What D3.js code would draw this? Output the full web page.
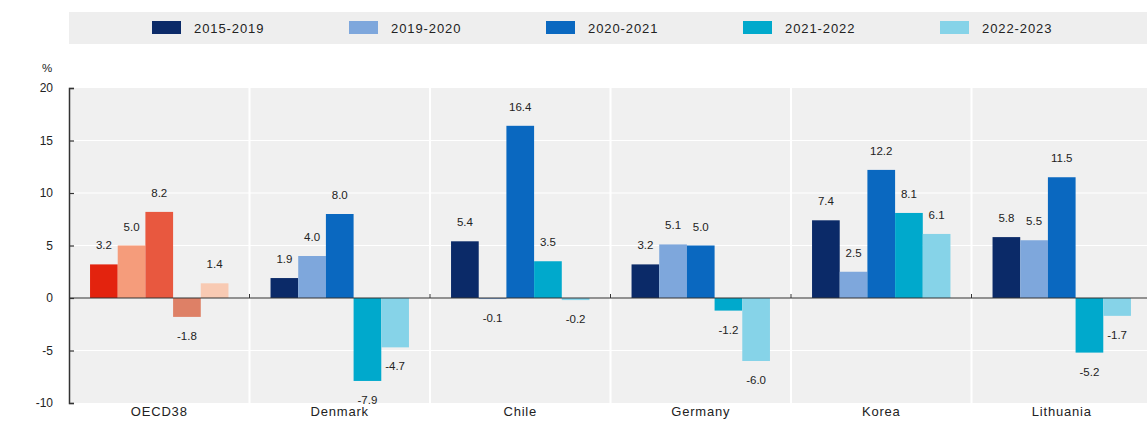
<!DOCTYPE html>
<html>
<head>
<meta charset="utf-8">
<script src="https://cdn.jsdelivr.net/npm/d3@7"></script>
<style>
  html, body { margin: 0; padding: 0; background: #ffffff; }
  svg { display: block; font-family: "Liberation Sans", Arial, sans-serif; }
</style>
</head>
<body>
<svg id="chart" width="1147" height="423"></svg>
<script>
// Countries / aggregate shown along the x axis
const categories = ["OECD38", "Denmark", "Chile", "Germany", "Korea", "Lithuania"];
// Periods (one bar per period in each group)
const periods = ["2015-2019", "2019-2020", "2020-2021", "2021-2022", "2022-2023"];

// Growth, % — one array per period, in the order of `categories`
const v2015_2019 = [3.2, 1.9, 5.4, 3.2, 7.4, 5.8];
const v2019_2020 = [5.0, 4.0, -0.1, 5.1, 2.5, 5.5];
const v2020_2021 = [8.2, 8.0, 16.4, 5.0, 12.2, 11.5];
const v2021_2022 = [-1.8, -7.9, 3.5, -1.2, 8.1, -5.2];
const v2022_2023 = [1.4, -4.7, -0.2, -6.0, 6.1, -1.7];
const seriesValues = [v2015_2019, v2019_2020, v2020_2021, v2021_2022, v2022_2023];

const yTicks = [-10, -5, 0, 5, 10, 15, 20];

// Palettes: OECD aggregate in reds, countries in blues
const blues = ["#0b2a68", "#7ea7dc", "#0a68c0", "#00a9cc", "#86d3e8"];
const reds  = ["#e3230e", "#f59c7b", "#e8583f", "#de8066", "#f8cab3"];

// Number formatting with a plain hyphen as the minus sign
const locale = d3.formatLocale({ decimal: ".", thousands: ",", grouping: [3], currency: ["", ""], minus: "-" });
const fmt = locale.format(".1f");
const fmtInt = locale.format("d");

const svg = d3.select("#chart");

const plot = { left: 69, right: 1152, top: 88, bottom: 403 };

const x0 = d3.scaleBand().domain(categories).range([plot.left, plot.right]).paddingInner(0).paddingOuter(0);
const x1 = d3.scaleBand().domain(periods).range([0, x0.bandwidth()]).paddingInner(0).paddingOuter(0.76);
const y = d3.scaleLinear().domain([-10, 20]).range([plot.bottom, plot.top]);

const colorFor = (cat, i) => (cat === "OECD38" ? reds[i] : blues[i]);

// Legend band
const legend = svg.append("g");
legend.append("rect")
  .attr("x", 69).attr("y", 12).attr("width", 1147 - 69).attr("height", 32)
  .attr("fill", "#eeeeee");
const legendX = d3.scalePoint().domain(periods).range([152, 940]);
const items = legend.selectAll("g.item").data(periods).join("g")
  .attr("class", "item")
  .attr("transform", d => `translate(${legendX(d)},0)`);
items.append("rect")
  .attr("x", 0).attr("y", 21).attr("width", 29).attr("height", 13)
  .attr("fill", (d, i) => blues[i]);
items.append("text")
  .attr("x", 42).attr("y", 28).attr("dy", "0.35em")
  .attr("font-size", 13).attr("letter-spacing", 0.9)
  .attr("fill", "#222")
  .text(d => d);

// Plot background
svg.append("rect")
  .attr("x", plot.left).attr("y", plot.top)
  .attr("width", plot.right - plot.left).attr("height", plot.bottom - plot.top)
  .attr("fill", "#f0f0f0");

// Horizontal gridlines
svg.append("g").selectAll("line").data(yTicks.filter(t => t !== 0 && t !== -10 && t !== 20)).join("line")
  .attr("x1", plot.left).attr("x2", plot.right)
  .attr("y1", d => y(d)).attr("y2", d => y(d))
  .attr("stroke", "#ffffff").attr("stroke-width", 1.2);

// Vertical separators between groups
svg.append("g").selectAll("line").data(categories.slice(1)).join("line")
  .attr("x1", d => x0(d)).attr("x2", d => x0(d))
  .attr("y1", plot.top).attr("y2", plot.bottom)
  .attr("stroke", "#ffffff").attr("stroke-width", 2);

// Bars
const groups = svg.append("g").selectAll("g").data(categories).join("g")
  .attr("transform", d => `translate(${x0(d)},0)`);

const barData = (cat, ci) => periods.map((p, i) => ({ cat, period: p, i, value: seriesValues[i][ci] }));

groups.selectAll("rect").data((d, ci) => barData(d, ci)).join("rect")
  .attr("x", d => x1(d.period))
  .attr("width", x1.bandwidth())
  .attr("y", d => y(Math.max(0, d.value)))
  .attr("height", d => Math.abs(y(d.value) - y(0)))
  .attr("fill", d => colorFor(d.cat, d.i));

// Zero line
svg.append("line")
  .attr("x1", plot.left).attr("x2", plot.right)
  .attr("y1", y(0)).attr("y2", y(0))
  .attr("stroke", "#333333").attr("stroke-width", 1.2);

// Small ticks on zero line at group boundaries
svg.append("g").selectAll("line").data(categories.slice(1)).join("line")
  .attr("x1", d => x0(d)).attr("x2", d => x0(d))
  .attr("y1", y(0)).attr("y2", y(0) - 4)
  .attr("stroke", "#333333").attr("stroke-width", 1);

// Value labels
groups.selectAll("text.val").data((d, ci) => barData(d, ci)).join("text")
  .attr("class", "val")
  .attr("x", d => x1(d.period) + x1.bandwidth() / 2)
  .attr("y", d => d.value >= 0 ? y(d.value) - 19 : y(d.value) + 19)
  .attr("dy", "0.35em")
  .attr("text-anchor", "middle")
  .attr("font-size", 11.5)
  .attr("fill", "#222")
  .text(d => fmt(d.value));

// Y axis (ticks point inward)
const yAxis = d3.axisLeft(y).tickValues(yTicks).tickSizeInner(-5).tickSizeOuter(-5).tickPadding(16).tickFormat(fmtInt);
const yg = svg.append("g").attr("transform", `translate(${plot.left},0)`).call(yAxis);
yg.select(".domain").attr("stroke", "#333").attr("stroke-width", 1.5);
yg.selectAll(".tick line").attr("stroke", "#333").attr("stroke-width", 1.2);
yg.selectAll(".tick text").attr("font-size", 12).attr("fill", "#222").attr("font-family", "Liberation Sans, Arial, sans-serif");

svg.append("text")
  .attr("x", 47).attr("y", 68).attr("dy", "0.35em")
  .attr("text-anchor", "middle").attr("font-size", 11.5).attr("fill", "#222")
  .text("%");

// Category labels
const xAxis = d3.axisBottom(x0).tickSize(0);
const xg = svg.append("g").attr("transform", `translate(0,${plot.bottom})`).call(xAxis);
xg.select(".domain").remove();
xg.selectAll(".tick text")
  .attr("y", 13).attr("dy", 0)
  .attr("font-size", 13).attr("letter-spacing", 0.8).attr("fill", "#222")
  .attr("font-family", "Liberation Sans, Arial, sans-serif");
</script>
</body>
</html>
